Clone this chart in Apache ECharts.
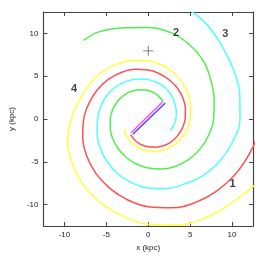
<!DOCTYPE html>
<html>
<head>
<meta charset="utf-8">
<script src="https://cdn.jsdelivr.net/npm/echarts@6/dist/echarts.min.js"></script>
<style>html,body{margin:0;padding:0;background:#fff}#c{width:272px;height:258px}</style>
</head>
<body>
<div id="c"></div>
<script>
// Tick values
const xTicks = [-10, -5, 0, 5, 10];
const yTicks = [-10, -5, 0, 5, 10];

// Spiral arms (x, y in kpc)
const arm1 = [[-2.11,-1.84],[-1.99,-1.99],[-1.49,-2.57],[-0.81,-3.01],[0,-3.25],[0.89,-3.30],[1.81,-3.13],[2.70,-2.70],[3.46,-2.0],[4.06,-1.09],[4.4,0],[4.44,1.19],[4.16,2.40],[3.54,3.54],[2.60,4.50],[1.41,5.26],[0,5.72],[-1.55,5.80],[-3.15,5.46],[-4.68,4.68],[-6.02,3.48],[-7.05,1.89],[-7.7,0],[-7.82,-2.10],[-7.36,-4.25],[-6.29,-6.29],[-4.65,-8.05],[-2.52,-9.42],[0,-10.25],[2.78,-10.38],[5.63,-9.74],[8.31,-8.31],[10.65,-6.15],[12.46,-3.34],[13.25,-1.16]];
const arm2 = [[1.78,2.05],[1.43,2.47],[0.80,2.99],[0,3.32],[-0.92,3.43],[-1.89,3.27],[-2.83,2.83],[-3.64,2.10],[-4.23,1.13],[-4.53,0],[-4.52,-1.21],[-4.18,-2.42],[-3.54,-3.54],[-2.60,-4.50],[-1.41,-5.26],[0,-5.73],[1.57,-5.84],[3.2,-5.54],[4.77,-4.77],[6.15,-3.55],[7.20,-1.93],[7.8,0],[7.87,2.11],[7.53,4.35],[6.65,6.65],[4.98,8.62],[2.70,10.09],[0,10.7],[-2.86,10.67],[-5.88,10.18],[-7.71,9.19]];
const arm3 = [[2.65,-1.35],[3.01,-0.81],[3.3,0],[3.35,0.90],[3.16,1.83],[2.76,2.76],[2.08,3.59],[1.13,4.23],[0,4.6],[-1.26,4.68],[-2.55,4.42],[-3.80,3.80],[-4.89,2.83],[-5.65,1.51],[-6.05,0],[-6.11,-1.64],[-5.76,-3.33],[-4.94,-4.94],[-3.68,-6.37],[-1.99,-7.44],[0,-8.05],[2.17,-8.11],[4.38,-7.58],[6.58,-6.58],[8.53,-4.93],[10.05,-2.69],[10.95,0],[10.91,2.92],[10.13,5.85],[8.70,8.70],[6.6,11.43],[3.62,13.52]];
const arm4 = [[-2.83,-1.14],[-2.73,-1.58],[-2.35,-2.35],[-1.74,-3.01],[-0.93,-3.48],[0,-3.75],[1.02,-3.80],[2.05,-3.55],[3.04,-3.04],[3.92,-2.27],[4.62,-1.24],[5.0,0],[5.07,1.36],[4.81,2.78],[4.14,4.14],[3.09,5.35],[1.68,6.28],[0,6.8],[-1.84,6.86],[-3.7,6.41],[-5.50,5.50],[-7.01,4.05],[-8.21,2.20],[-9.2,0],[-9.61,-2.58],[-9.05,-5.23],[-7.71,-7.71],[-5.65,-9.79],[-3.04,-11.35],[0,-12.3],[3.33,-12.41],[6.7,-11.6],[9.86,-9.86],[12.99,-7.5]];

// Central bar (two parallel strokes)
const barMagenta = [[-2.04,-1.6],[1.76,2.05]];
const barBlue = [[-1.84,-1.79],[2.03,1.86]];

// Sun position
const sun = [[0, 7.96]];

// Arm labels
const armLabels = [[10.06,-7.62,'1'],[3.32,10.09,'2'],[9.21,9.94,'3'],[-8.84,3.53,'4']];

const FONT = 'Liberation Sans';
const axisCol = '#444';

function lineSeries(data, color, w) {
  return {type:'line', data:data, smooth:0.4, showSymbol:false, symbol:'none',
    lineStyle:{color:color, width:w||1.5}, clip:true, z:3};
}

const chart = echarts.init(document.getElementById('c'), null, {renderer:'canvas'});
const baseAxis = {
  type:'value', min:-12.5, max:12.5,
  splitLine:{show:false},
  axisLine:{show:true, onZero:false, lineStyle:{color:axisCol, width:1.2}},
};
chart.setOption({
  animation:false,
  backgroundColor:'#fff',
  grid:{left:39, right:19, top:12, bottom:32},
  xAxis:[
    Object.assign({}, baseAxis, {position:'bottom',
      axisTick:{show:true, inside:true, length:4, customValues:xTicks, lineStyle:{color:axisCol}},
      axisLabel:{customValues:xTicks, fontSize:8, color:'#222', margin:5, fontFamily:FONT},
      name:'x (kpc)', nameLocation:'middle', nameGap:16,
      nameTextStyle:{fontSize:8, color:'#222', fontFamily:FONT}}),
    Object.assign({}, baseAxis, {position:'top',
      axisTick:{show:true, inside:true, length:4, customValues:xTicks, lineStyle:{color:axisCol}},
      axisLabel:{show:false}})
  ],
  yAxis:[
    Object.assign({}, baseAxis, {position:'left',
      axisTick:{show:true, inside:true, length:4, customValues:yTicks, lineStyle:{color:axisCol}},
      axisLabel:{customValues:yTicks, fontSize:8, color:'#222', margin:5, fontFamily:FONT},
      name:'y (kpc)', nameLocation:'middle', nameGap:22, nameRotate:90,
      nameTextStyle:{fontSize:8, color:'#222', fontFamily:FONT}}),
    Object.assign({}, baseAxis, {position:'right',
      axisTick:{show:true, inside:true, length:4, customValues:yTicks, lineStyle:{color:axisCol}},
      axisLabel:{show:false}})
  ],
  series:[
    lineSeries(arm4, '#ffff40'),
    lineSeries(arm3, '#50ffff'),
    lineSeries(arm2, '#50ee50'),
    lineSeries(arm1, '#ff5050'),
    {type:'line', data:barMagenta, showSymbol:false, symbol:'none', lineStyle:{color:'#ff40ff', width:1.3}, z:4},
    {type:'line', data:barBlue, showSymbol:false, symbol:'none', lineStyle:{color:'#4040ff', width:1.3}, z:4},
    {type:'scatter', data:sun, symbol:'path://M4.6,0h0.8v4.6h4.6v0.8h-4.6v4.6h-0.8v-4.6h-4.6v-0.8h4.6z',
      symbolSize:10, itemStyle:{color:'#333'}, z:5},
    {type:'scatter', data:armLabels, symbolSize:1, itemStyle:{color:'rgba(0,0,0,0)'},
      label:{show:true, position:'inside', formatter:function(p){return p.data[2];},
        fontSize:11, fontWeight:'bold', color:'#111', fontFamily:FONT}, z:6}
  ]
});
</script>
</body>
</html>
